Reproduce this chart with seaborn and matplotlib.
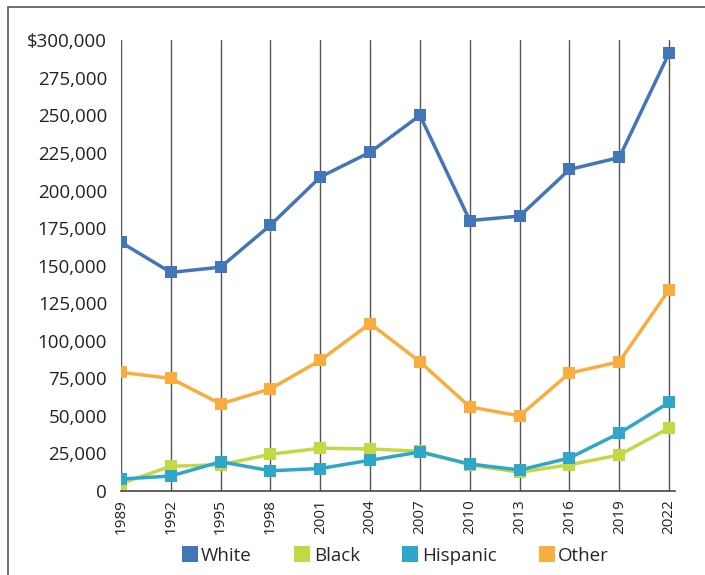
import matplotlib
matplotlib.use('Agg')
import matplotlib.pyplot as plt
from matplotlib.lines import Line2D
from matplotlib.patches import Rectangle
import matplotlib.ticker as mticker
import numpy as np
import pandas as pd
import seaborn as sns

years = [1989, 1992, 1995, 1998, 2001, 2004, 2007, 2010, 2013, 2016, 2019, 2022]
white = [165500, 145500, 149000, 177000, 209000, 225500, 250000, 180000, 183000, 214000, 222000, 291500]
black = [5000, 16500, 17500, 24500, 28500, 28000, 26500, 17500, 12500, 17500, 24000, 42000]
hispanic = [8000, 10000, 19500, 13500, 15000, 20500, 26000, 18000, 14000, 22000, 38500, 59000]
other = [79000, 75000, 58000, 68000, 87000, 111500, 86000, 56000, 50000, 78500, 86000, 134000]

groups = ['White', 'Black', 'Hispanic', 'Other']
colors = ['#4376b8', '#c3d944', '#2ea7c9', '#f9ad3e']
yticks = [0, 25000, 50000, 75000, 100000, 125000, 150000, 175000, 200000, 225000, 250000, 275000, 300000]

df = pd.DataFrame({'year': years, 'White': white, 'Black': black,
                   'Hispanic': hispanic, 'Other': other})
long_df = df.melt(id_vars='year', var_name='group', value_name='value')

sns.set_theme(style='white')
plt.rcParams['font.family'] = ['Open Sans', 'DejaVu Sans']

fig = plt.figure(figsize=(7.05, 5.75), dpi=100)
ax = fig.add_axes([0.1716, 0.146, 0.786, 0.784])

sns.lineplot(data=long_df, x='year', y='value', hue='group', hue_order=groups,
             palette=colors, style='group', markers=['s'] * 4, dashes=False,
             markersize=9, markeredgewidth=0, linewidth=2.5, ax=ax, legend=False)

ax.set_xlim(1989, 2022.36)
ax.set_ylim(0, 300000)
ax.set_xticks(years)
ax.set_xticklabels([str(y) for y in years], rotation=90, fontsize=11, color='#222')
ax.set_yticks(yticks)

def yfmt(v, pos):
    if v == 0:
        return '0'
    s = f'{int(v):,}'
    return '$' + s if v == 300000 else s

ax.yaxis.set_major_formatter(mticker.FuncFormatter(yfmt))
ax.tick_params(axis='y', labelsize=13.5, colors='#222', length=0, pad=10)
ax.tick_params(axis='x', length=0, pad=6)
ax.set_xlabel('')
ax.set_ylabel('')

for y in years:
    ax.axvline(y, color='#555', linewidth=1, zorder=0)

for side in ['top', 'right', 'left']:
    ax.spines[side].set_visible(False)
ax.spines['bottom'].set_color('#444')
ax.spines['bottom'].set_linewidth(1.2)

handles = [Line2D([], [], marker='s', linestyle='none', markersize=11,
                  markerfacecolor=c, markeredgewidth=0) for c in colors]
fig.legend(handles, groups, loc='center', bbox_to_anchor=(0.56, 0.033), ncol=4,
           frameon=False, fontsize=13.5, handletextpad=0.1, columnspacing=2.2,
           handlelength=1.0)

fig.patches.append(Rectangle((8 / 705, -0.1), 1.2, 1 - 7 / 575 + 0.1,
                             transform=fig.transFigure, fill=False,
                             edgecolor='#555', linewidth=1.2))

fig.savefig('out.png', dpi=100)
